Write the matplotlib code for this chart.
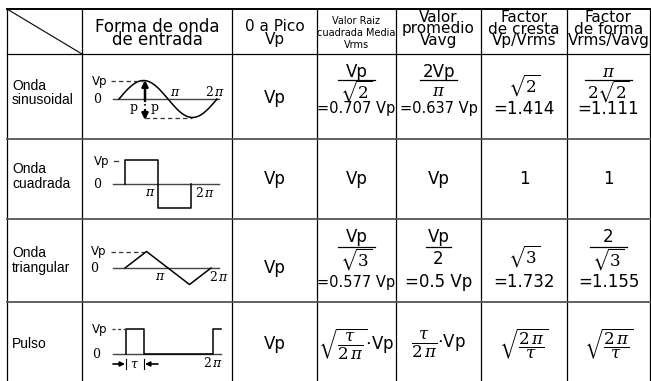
import matplotlib
matplotlib.use('Agg')
import matplotlib.pyplot as plt
from matplotlib import font_manager
import numpy as np

plt.rcParams['mathtext.fontset'] = 'custom'
plt.rcParams['mathtext.rm'] = 'DejaVu Serif'
plt.rcParams['mathtext.it'] = 'DejaVu Serif:italic'
plt.rcParams['mathtext.sf'] = 'DejaVu Sans'
plt.rcParams['mathtext.fallback'] = 'stix'

# ---- table contents ----
headers = [['Forma de onda', 'de entrada'],
           ['0 a Pico', 'Vp'],
           ['Valor Raiz', 'cuadrada Media', 'Vrms'],
           ['Valor', 'promedio', 'Vavg'],
           ['Factor', 'de cresta', 'Vp/Vrms'],
           ['Factor', 'de forma', 'Vrms/Vavg']]
row_labels = [['Onda', 'sinusoidal'], ['Onda', 'cuadrada'], ['Onda', 'triangular'], ['Pulso']]

# (numerator, denominator, result) or a single entry
peak_vals = ['Vp', 'Vp', 'Vp', 'Vp']
rms_vals = [('Vp', r'$\sqrt{2}$', '=0.707 Vp'), 'Vp',
            ('Vp', r'$\sqrt{3}$', '=0.577 Vp'), r'$\sqrt{\dfrac{\tau}{2\,\pi}}{\cdot}$Vp']
avg_vals = [('2Vp', r'$\pi$', '=0.637 Vp'), 'Vp',
            ('Vp', '2', '=0.5 Vp'), r'$\dfrac{\tau}{2\,\pi}{\cdot}$Vp']
crest_vals = [(None, r'$\sqrt{2}$', '=1.414'), '1',
              (None, r'$\sqrt{3}$', '=1.732'), r'$\sqrt{\dfrac{2\,\pi}{\tau}}$']
form_vals = [(r'$\pi$', r'$2\sqrt{2}$', '=1.111'), '1',
             ('2', r'$\sqrt{3}$', '=1.155'), r'$\sqrt{\dfrac{2\,\pi}{\tau}}$']

# waveform shapes: phase (0..2pi) and level (-1..1)
sq_phase = [0, 0, np.pi, np.pi, 2 * np.pi, 2 * np.pi]
sq_level = [0, 1, 1, -1, -1, 0]
tri_phase = [0, np.pi / 2, 3 * np.pi / 2, 2 * np.pi]
tri_level = [0, 1, -1, 0]
tau = 1.3
pulse_phase = [0, 0, tau, tau, 2 * np.pi, 2 * np.pi, 2 * np.pi + 0.58]
pulse_level = [0, 1, 1, 0, 0, 1, 1]

# ---- layout (pixels) ----
col_edges = [7, 82, 232, 317, 396, 481, 567, 650]
row_edges = [9, 54, 139, 219, 302, 381]
row_mid = [98, 179, 268, 344]
frac_pos = {0: (72, 80, 91, 109, 85), 2: (237, 247, 259, 282, 256)}

names = {f.name for f in font_manager.fontManager.ttflist}
narrow = 'Liberation Sans Narrow' in names

fig = plt.figure(figsize=(6.51, 3.81), dpi=100)
ax = fig.add_axes([0, 0, 1, 1])
ax.set_xlim(0, 651)
ax.set_ylim(381, 0)
ax.axis('off')
renderer = fig.canvas.get_renderer()

# grid
for x in col_edges:
    ax.plot([x, x], [row_edges[0], 381], color='black', lw=0.9)
ax.plot([col_edges[0], col_edges[-1]], [row_edges[0]] * 2, color='black', lw=1.4)
ax.plot([col_edges[0], col_edges[-1]], [row_edges[1]] * 2, color='black', lw=0.9)
for y in row_edges[2:-1]:
    ax.plot([col_edges[0], col_edges[-1]], [y, y], color='#555555', lw=1.3)
ax.plot([col_edges[0], col_edges[1]], [row_edges[0], row_edges[1]], color='black', lw=0.8)

# headers
head_base = [[31.5, 45], [31, 44], [24, 36, 47.5], [22, 33.5, 45], [22, 33.5, 45], [22, 33.5, 45]]
for i, lines in enumerate(headers):
    xc = (col_edges[i + 1] + col_edges[i + 2]) / 2
    for line, yb in zip(lines, head_base[i]):
        if i == 2:
            if narrow:
                ax.text(xc, yb, line, ha='center', va='baseline', fontsize=9.5,
                        family='Liberation Sans Narrow')
            else:
                ax.text(xc, yb, line, ha='center', va='baseline', fontsize=7)
        else:
            ax.text(xc, yb, line, ha='center', va='baseline',
                    fontsize=12 if i == 0 else 11)

# row labels
label_base = [[90, 104.5], [173, 188], [257, 272], [348]]
for lines, bases in zip(row_labels, label_base):
    for line, yb in zip(lines, bases):
        ax.text(12, yb, line, ha='left', va='baseline', fontsize=10,
                family='Liberation Sans')


def draw_cell(xc, row, val):
    if isinstance(val, tuple):
        num, den, eq = val
        ny, by, dy, ey, sy = frac_pos[row]
        if num is None:
            ax.text(xc, sy, den, ha='center', va='center', fontsize=12)
        else:
            t1 = ax.text(xc, ny, num, ha='center', va='center', fontsize=12)
            t2 = ax.text(xc, dy, den, ha='center', va='center', fontsize=12)
            w = max(t1.get_window_extent(renderer).width,
                    t2.get_window_extent(renderer).width) + 4
            ax.plot([xc - w / 2, xc + w / 2], [by, by], color='black', lw=0.9)
        ax.text(xc, ey, eq, ha='center', va='center',
                fontsize=12 if len(eq) <= 7 else 10.5)
    else:
        ax.text(xc, row_mid[row], val, ha='center', va='center', fontsize=12)


columns = [peak_vals, rms_vals, avg_vals, crest_vals, form_vals]
for j, col in enumerate(columns):
    xc = (col_edges[j + 2] + col_edges[j + 3]) / 2
    for r, val in enumerate(col):
        draw_cell(xc, r, val)


# ---- waveform sketches ----
def wave(phase, level, x0, width, y0, amp):
    px = x0 + np.asarray(phase) / (2 * np.pi) * width
    py = y0 - np.asarray(level) * amp
    ax.plot(px, py, color='black', lw=1.1)


def axis_line(y0):
    ax.plot([113, 219], [y0, y0], color='#444444', lw=1.0)


small = dict(fontsize=8.5, va='center', ha='center')
serif = dict(fontsize=9, va='center', ha='center')
dash = dict(color='#333333', lw=0.9, ls=(0, (3.5, 2.5)))

# sine
axis_line(99)
ph = np.linspace(0, 2 * np.pi, 200)
wave(ph, np.sin(ph), 119, 98, 99, 18.5)
ax.text(100, 82, 'Vp', **small)
ax.text(98, 99, r'$0$', **serif)
ax.text(175, 92, r'$\pi$', **serif)
ax.text(215, 92, r'$2\,\pi$', **serif)
ax.plot([111, 143], [80.5, 80.5], **dash)
ax.plot([145, 192], [117.5, 117.5], **dash)
ax.annotate('', xy=(145, 80), xytext=(145, 101),
            arrowprops=dict(arrowstyle='-|>', lw=1.8, color='black', mutation_scale=9,
                            shrinkA=0, shrinkB=0))
ax.annotate('', xy=(145, 120), xytext=(145, 110),
            arrowprops=dict(arrowstyle='-|>', lw=1.8, color='black', mutation_scale=9,
                            shrinkA=0, shrinkB=0))
ax.plot([145, 145], [104, 107.5], color='black', lw=1.2, ls=(0, (1, 1.5)))
ax.text(134, 108, 'p', fontsize=9, family='DejaVu Serif', ha='center', va='center')
ax.text(155, 108, 'p', fontsize=9, family='DejaVu Serif', ha='center', va='center')

# square
axis_line(184)
wave(sq_phase, sq_level, 125, 66, 184, 24)
ax.text(102, 161, 'Vp', **small)
ax.plot([114, 118], [161, 161], color='#333333', lw=0.9)
ax.text(98, 184, r'$0$', **serif)
ax.text(150, 193, r'$\pi$', **serif)
ax.text(205, 193, r'$2\,\pi$', **serif)

# triangle
axis_line(268)
wave(tri_phase, tri_level, 125, 86, 268, 16.5)
ax.text(99, 251, 'Vp', **small)
ax.plot([111, 144], [251.5, 251.5], **dash)
ax.text(95, 268, r'$0$', **serif)
ax.text(160, 277, r'$\pi$', **serif)
ax.text(219, 277, r'$2\,\pi$', **serif)

# pulse
ax.plot([113, 221], [354, 354], color='#444444', lw=1.0)
wave(pulse_phase, pulse_level, 126, 87, 354, 25)
ax.text(100, 329, 'Vp', **small)
ax.plot([112, 125], [329, 329], color='#333333', lw=0.9, ls=(0, (2.5, 2)))
ax.text(97, 354, r'$0$', **serif)
ax.text(213, 363, r'$2\,\pi$', **serif)
ax.text(135, 364, r'$\tau$', **serif)
for xt in (126, 144):
    ax.plot([xt, xt], [359, 369], color='black', lw=0.8)
ax.annotate('', xy=(125, 364), xytext=(113, 364),
            arrowprops=dict(arrowstyle='-|>', lw=1.2, color='black', mutation_scale=7,
                            shrinkA=0, shrinkB=0))
ax.annotate('', xy=(145, 364), xytext=(158, 364),
            arrowprops=dict(arrowstyle='-|>', lw=1.2, color='black', mutation_scale=7,
                            shrinkA=0, shrinkB=0))

fig.savefig('out.png', dpi=100, facecolor='white')
